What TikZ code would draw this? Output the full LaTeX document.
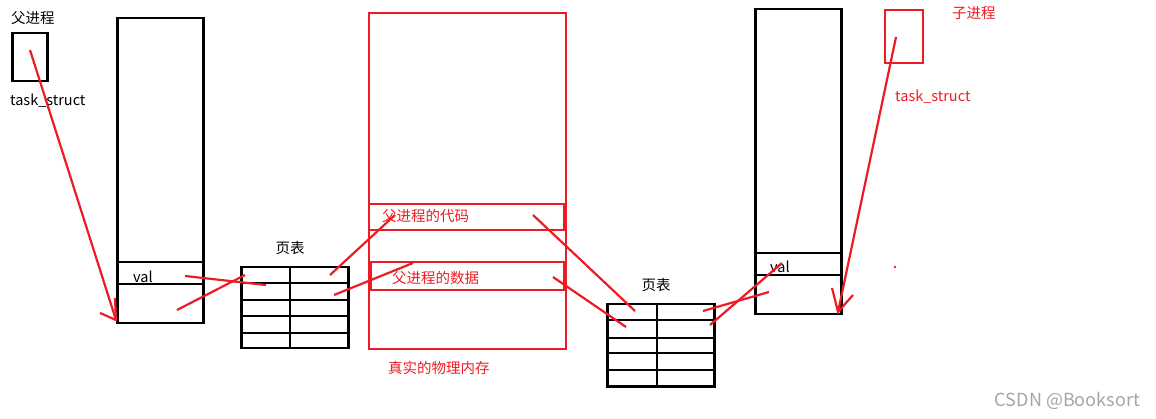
\documentclass[tikz,border=0pt]{standalone}
\usepackage{fontspec}
\setmainfont{Noto Sans CJK SC}
\definecolor{pred}{RGB}{237,28,36}
\definecolor{wm}{RGB}{165,165,165}
\begin{document}
\begin{tikzpicture}[x=1pt,y=-1pt,
  blk/.style={draw=black, line width=2.5pt, inner sep=0pt, anchor=north west},
  redbox/.style={draw=pred, line width=2.3pt, inner sep=0pt, anchor=north west},
  bline/.style={draw=black, line width=2.5pt},
  redln/.style={draw=pred, line width=2.2pt},
  lbl/.style={inner sep=0pt, font=\fontsize{14.5}{16}\selectfont, anchor=west},
  rlbl/.style={lbl, text=pred}]
\useasboundingbox (0,0) rectangle (1156,419);

% parent process
\node[lbl] (plabel) at (11,18) {父进程};
\node[blk, minimum width=35pt, minimum height=48pt] (ptask) at (11,32) {};
\node[lbl] (ptasklbl) at (10,101) {task\_struct};

% parent virtual space
\node[blk, minimum width=86pt, minimum height=305pt] (pmem) at (116,17) {};
\draw[bline] (116,262) -- (202,262);
\draw[bline] (116,284) -- (202,284);
\node[lbl] (pval) at (133,277) {val};

% left page table
\node[lbl, anchor=center] (pt1lbl) at (290,248) {页表};
\node[blk, minimum width=107pt, minimum height=81pt] (pt1) at (240,266) {};
\foreach \y in {283,300,316,333} \draw[bline] (240,\y) -- (347,\y);
\draw[bline] (290,266) -- (290,347);

% physical memory
\node[redbox, minimum width=197pt, minimum height=336pt] (mem) at (368,12) {};
\node[redbox, minimum width=195pt, minimum height=26pt] (code) at (368,203) {};
\node[redbox, minimum width=193pt, minimum height=28pt] (data) at (370,261) {};
\node[rlbl] (codelbl) at (382,216) {父进程的代码};
\node[rlbl] (datalbl) at (392,278) {父进程的数据};
\node[rlbl] (memlbl) at (388,368) {真实的物理内存};

% right page table
\node[lbl, anchor=center] (pt2lbl) at (656,285) {页表};
\node[blk, minimum width=107pt, minimum height=82pt] (pt2) at (606,303) {};
\foreach \y in {320,338,353,370} \draw[bline] (606,\y) -- (713,\y);
\draw[bline] (657,303) -- (657,385);

% child virtual space
\node[blk, minimum width=86pt, minimum height=305pt] (cmem) at (754,8) {};
\draw[bline] (754,253) -- (840,253);
\draw[bline] (754,275) -- (840,275);
\node[lbl] (cval) at (770,267) {val};

% child process
\node[redbox, minimum width=38pt, minimum height=53pt] (ctask) at (884,9) {};
\node[rlbl] (clabel) at (952,13) {子进程};
\node[rlbl] (ctasklbl) at (895,97) {task\_struct};
\fill[pred] (895,267) circle (1.3);

% parent arrow
\coordinate (pa) at (30,50);
\coordinate (pb) at (116,320);
\draw[redln] (pa) -- (pb);
\draw[redln] (100,313) -- (pb) -- (115,298);

% child arrow
\coordinate (ca) at (896,37);
\coordinate (cb) at (838,312);
\draw[redln] (ca) -- (cb);
\draw[redln] (832,288) -- (cb) -- (853,295);

% mapping lines
\draw[redln] (185,276) -- (266,285);
\draw[redln] (177,310) -- (245,275);
\draw[redln] (330,275) -- (395,215);
\draw[redln] (334,295) -- (413,263);
\draw[redln] (533,215) -- (635,311);
\draw[redln] (553,277) -- (626,327);
\draw[redln] (703,311) -- (769,292);
\draw[redln] (710,325) -- (782,263);

% watermark
\node[inner sep=0pt, anchor=east, text=wm, font=\fontsize{18}{20}\selectfont] (wmark) at (1140,401) {CSDN @Booksort};
\end{tikzpicture}
\end{document}
